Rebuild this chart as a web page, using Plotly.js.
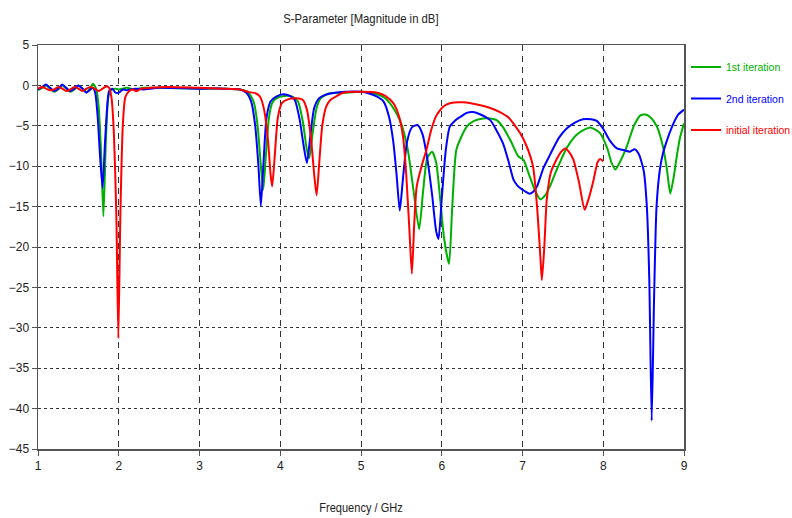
<!DOCTYPE html>
<html>
<head>
<meta charset="utf-8">
<script src="https://cdn.plot.ly/plotly-3.0.1.min.js"></script>
<style>
  html, body { margin: 0; padding: 0; background: #ffffff; }
  #chart { width: 792px; height: 518px; }
</style>
</head>
<body>
<div id="chart"></div>
<script>
// ---- Data ----
const seriesNames = ["1st iteration", "2nd iteration", "initial iteration"];
const seriesColors = ["#00b000", "#0000ff", "#ff0000"];

const freq1st = [1.0,1.05,1.1,1.15,1.2,1.25,1.3,1.35,1.4,1.45,1.5,1.55,1.6,1.65,1.68,1.72,1.75,1.78,1.81,1.84,1.87,1.9,1.95,2.0,2.1,2.2,2.3,2.5,3.0,3.3,3.5,3.6,3.67,3.72,3.76,3.79,3.82,3.86,3.9,3.95,4.05,4.15,4.22,4.28,4.33,4.36,4.4,4.45,4.5,4.6,4.8,5.0,5.2,5.3,5.4,5.5,5.58,5.65,5.72,5.77,5.82,5.88,5.93,5.98,6.03,6.09,6.13,6.18,6.25,6.31,6.4,6.51,6.6,6.68,6.76,6.85,6.95,7.01,7.08,7.15,7.22,7.28,7.34,7.4,7.46,7.55,7.67,7.76,7.84,7.96,8.05,8.1,8.15,8.2,8.29,8.38,8.46,8.52,8.58,8.66,8.74,8.79,8.83,8.87,8.91,8.95,9.0];
const s11_1st = [-0.6,-0.3,0.0,-0.4,-0.8,-0.5,0.0,-0.4,-0.8,-0.5,0.0,-0.4,-0.8,-0.3,0.2,-0.4,-2.5,-8,-16.2,-7,-1.5,-0.6,-0.4,-0.5,-0.3,-0.5,-0.3,-0.3,-0.4,-0.4,-0.5,-0.8,-2.0,-5,-10,-12.9,-9,-4,-2.2,-1.6,-1.3,-1.4,-2.0,-4.5,-8,-9.0,-6,-2.8,-1.6,-1.0,-0.9,-0.8,-1.1,-1.6,-2.8,-4.8,-8,-13,-17.8,-13,-9,-8.2,-9.5,-14,-19,-22.1,-15,-8.0,-6.2,-5.1,-4.4,-4.1,-4.1,-4.3,-5.2,-6.8,-8.8,-9.2,-11,-12.9,-14.1,-13.6,-12.5,-11,-9.6,-7.7,-6.1,-5.5,-5.2,-5.9,-7.8,-9.5,-10.4,-9.6,-7.6,-5.0,-3.7,-3.6,-3.9,-5.0,-7.6,-10.5,-13.4,-11.5,-8.8,-6.5,-4.7];

const freq2nd = [1.0,1.05,1.1,1.15,1.2,1.25,1.3,1.35,1.4,1.45,1.5,1.55,1.6,1.65,1.68,1.71,1.74,1.77,1.8,1.83,1.86,1.88,1.92,1.96,2.0,2.05,2.1,2.2,2.3,2.5,3.0,3.3,3.5,3.58,3.64,3.69,3.73,3.76,3.79,3.83,3.88,3.95,4.04,4.12,4.18,4.24,4.29,4.33,4.37,4.42,4.48,4.55,4.62,4.8,5.0,5.1,5.2,5.28,5.35,5.4,5.44,5.48,5.52,5.57,5.63,5.7,5.76,5.82,5.88,5.93,5.96,6.0,6.05,6.1,6.17,6.23,6.31,6.39,6.48,6.6,6.68,6.76,6.83,6.89,6.93,6.97,7.03,7.09,7.14,7.18,7.26,7.34,7.45,7.55,7.65,7.75,7.85,7.92,8.0,8.08,8.17,8.25,8.33,8.39,8.44,8.5,8.54,8.57,8.6,8.63,8.66,8.7,8.74,8.8,8.87,8.93,9.0];
const s11_2nd = [-0.5,-0.2,0.1,-0.3,-0.7,-0.4,0.1,-0.3,-0.7,-0.4,0.0,-0.4,-0.9,-0.5,-0.3,-1.0,-4,-9,-12.7,-7,-2.2,-0.7,-0.4,-0.9,-0.9,-0.5,-0.6,-0.4,-0.5,-0.3,-0.4,-0.4,-0.5,-0.9,-2.0,-5,-10,-14.9,-10,-4,-2.0,-1.4,-1.1,-1.3,-1.8,-4.2,-7.5,-9.6,-6.5,-2.8,-1.6,-1.2,-1.0,-0.8,-0.8,-1.0,-1.4,-2.0,-4,-7,-11,-15.5,-11.5,-7,-5.2,-4.9,-6,-9,-13.5,-18,-19.0,-14,-8,-5.1,-4.3,-3.9,-3.4,-3.3,-3.6,-4.3,-5.6,-7.2,-9.5,-11.7,-12.3,-12.7,-13.1,-13.4,-13.1,-12.5,-10.2,-8.6,-6.5,-5.3,-4.6,-4.2,-4.2,-4.4,-5.4,-6.8,-7.8,-8.0,-8.2,-7.9,-8.5,-10.5,-15,-24,-41.5,-26,-15,-10.5,-8.4,-6.5,-4.7,-3.6,-3.0];

const freqInit = [1.0,1.05,1.1,1.15,1.2,1.25,1.3,1.35,1.4,1.45,1.5,1.55,1.6,1.65,1.7,1.75,1.8,1.85,1.88,1.91,1.94,1.97,1.995,2.02,2.05,2.08,2.12,2.17,2.22,2.28,2.4,2.6,3.0,3.3,3.5,3.6,3.7,3.75,3.8,3.85,3.88,3.9,3.93,3.97,4.02,4.1,4.2,4.28,4.33,4.38,4.42,4.45,4.48,4.52,4.57,4.62,4.7,4.78,5.0,5.2,5.3,5.4,5.47,5.52,5.56,5.6,5.63,5.66,5.69,5.75,5.81,5.87,5.93,6.02,6.1,6.27,6.45,6.6,6.72,6.83,6.97,7.05,7.13,7.18,7.22,7.24,7.27,7.3,7.35,7.42,7.48,7.53,7.58,7.63,7.7,7.77,7.82,7.88,7.93,7.96,8.0];
const s11_init = [-0.4,-0.2,-0.4,-0.6,-0.5,-0.2,-0.4,-0.7,-0.5,-0.2,-0.4,-0.7,-0.4,-0.2,-0.4,-0.7,-0.4,-0.1,-0.3,-1.5,-6,-16,-31.3,-16,-5,-1.5,-0.8,-0.5,-0.7,-0.4,-0.3,-0.2,-0.3,-0.4,-0.5,-0.8,-1.0,-1.4,-3,-7,-11,-12.5,-9,-4,-2.2,-1.7,-1.6,-1.8,-3.0,-6.5,-11,-13.6,-10,-5,-2.6,-1.8,-1.3,-0.9,-0.8,-0.9,-1.3,-2.2,-3.8,-6.3,-11,-18,-23.3,-17,-12.5,-10,-8.0,-5.5,-3.8,-2.6,-2.2,-2.1,-2.4,-2.8,-3.3,-4.0,-5.9,-7.5,-10.0,-15,-21,-24.1,-20,-14.2,-10.8,-9.2,-8.2,-7.8,-8.3,-9.2,-12,-15.4,-14,-11.7,-9.5,-9.1,-9.4];

const xTickVals = [1,2,3,4,5,6,7,8,9];
const yTickVals = [5,0,-5,-10,-15,-20,-25,-30,-35,-40,-45];

// ---- Chart ----
const FONT = "'Liberation Sans', Arial, sans-serif";
const xs = [freq1st, freq2nd, freqInit];
const ys = [s11_1st, s11_2nd, s11_init];

const traces = seriesNames.map((n, i) => ({
  x: xs[i],
  y: ys[i],
  type: 'scatter',
  mode: 'lines',
  name: '<span style="color:' + seriesColors[i] + '">' + n + '</span>',
  legendgroup: 'g' + i,
  line: { color: seriesColors[i], width: 2, shape: 'spline', smoothing: 0.6 },
  hoverinfo: 'x+y'
}));

const layout = {
  width: 792,
  height: 518,
  paper_bgcolor: '#ffffff',
  plot_bgcolor: '#ffffff',
  margin: { l: 38, r: 108, t: 45, b: 69, autoexpand: false },
  font: { family: FONT, size: 12, color: '#222222' },
  title: {
    text: 'S-Parameter [Magnitude in dB]',
    font: { family: FONT, size: 13, color: '#222222' },
    x: 0.4557, xanchor: 'center',
    y: 0.965, yanchor: 'middle', yref: 'container'
  },
  xaxis: {
    range: [1, 9],
    tickvals: xTickVals,
    ticks: 'outside', ticklen: 5, tickcolor: '#555555',
    showline: true, mirror: true, linecolor: '#555555', linewidth: 1.5,
    showgrid: true, gridcolor: '#333333', gridwidth: 1, griddash: '6px,5px',
    zeroline: false,
    title: { text: 'Frequency / GHz', font: { family: FONT, size: 13, color: '#222222' }, standoff: 31 },
    automargin: false
  },
  yaxis: {
    range: [-45, 5],
    tickvals: yTickVals,
    ticks: 'outside', ticklen: 5, tickcolor: '#555555',
    showline: true, mirror: true, linecolor: '#555555', linewidth: 1.5,
    showgrid: true, gridcolor: '#333333', gridwidth: 1, griddash: '3px,3px',
    zeroline: false,
    automargin: false
  },
  showlegend: true,
  legend: {
    x: 1.0031, xanchor: 'left',
    y: 0.9815, yanchor: 'top',
    bgcolor: 'rgba(0,0,0,0)',
    borderwidth: 0,
    font: { family: FONT, size: 10.5 },
    tracegroupgap: 12.5,
    traceorder: 'grouped'
  }
};

// Narrow the title texts (the reference uses a tall, condensed face)
function condense(gd) {
  const rules = [['.gtitle', 0.87], ['.xtitle', 0.85]];
  rules.forEach(([sel, k]) => {
    gd.querySelectorAll(sel).forEach(el => {
      const w = el.getComputedTextLength();
      if (w > 0) {
        el.setAttribute('textLength', (w * k).toFixed(1));
        el.setAttribute('lengthAdjust', 'spacingAndGlyphs');
      }
    });
  });
}

Plotly.newPlot('chart', traces, layout, { staticPlot: true, displayModeBar: false })
  .then(gd => condense(gd));
</script>
</body>
</html>
